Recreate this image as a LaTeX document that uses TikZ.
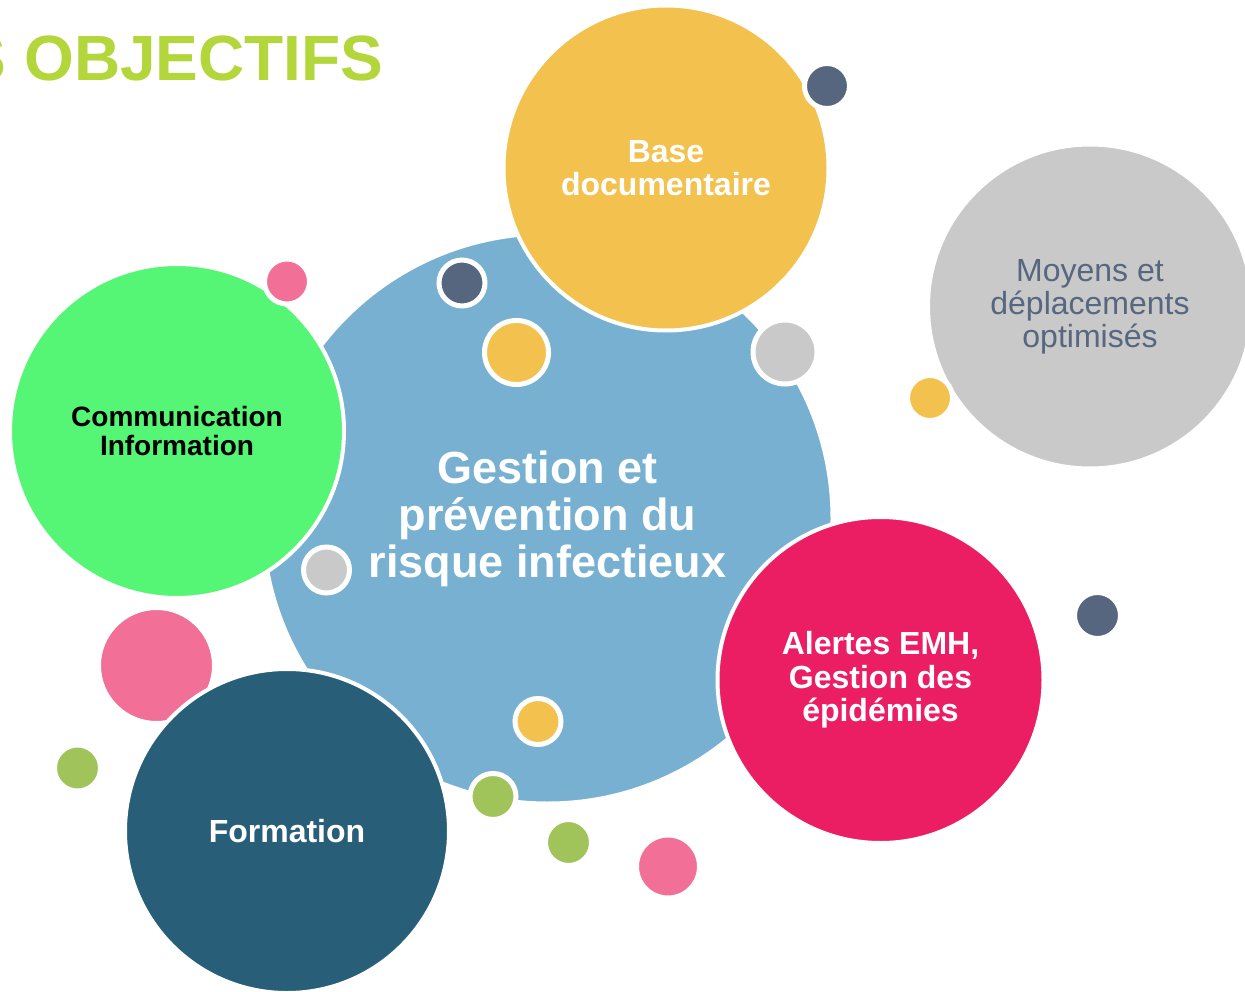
\documentclass[tikz,border=0pt]{standalone}
\usepackage{fontspec}
\setmainfont{Liberation Sans}
\definecolor{bigblue}{HTML}{77B0D1}
\definecolor{docyellow}{HTML}{F2C14E}
\definecolor{movegrey}{HTML}{C9C9C9}
\definecolor{comgreen}{HTML}{55F575}
\definecolor{alertred}{HTML}{EB1E63}
\definecolor{formteal}{HTML}{285E78}
\definecolor{dotslate}{HTML}{56667E}
\definecolor{dotpink}{HTML}{F27098}
\definecolor{dotgreen}{HTML}{A0C45A}
\definecolor{titlegreen}{HTML}{B3D63B}
\definecolor{movetext}{HTML}{56677F}
\begin{document}
\begin{tikzpicture}[x=1pt,y=-1pt,
  bubble/.style={circle,draw=white,line width=4pt,inner sep=0pt,outer sep=0pt,
    align=center,text=white,font=\bfseries\fontsize{32}{33.5}\selectfont},
  dot/.style={circle,draw=white,line width=5pt,inner sep=0pt,outer sep=0pt}]
  \useasboundingbox (0,0) rectangle (1245,992);
  \clip (0,0) rectangle (1245,992);

  %draw title
  \node[anchor=base east,text=titlegreen,font=\bfseries\fontsize{64}{70}\selectfont]
    (title) at (387,81) {S OBJECTIFS};

  %draw centre bubble
  \node[bubble,fill=bigblue,minimum size=570,font=\bfseries\fontsize{45}{47}\selectfont]
    (risk) at (547.5,518.5) {Gestion et\\prévention du\\risque infectieux};

  %draw dots on the centre bubble
  \foreach \x/\y/\r/\c [count=\i] in {462/283/20.5/dotslate, 516.5/352.5/29.5/docyellow,
      785/352/29.5/movegrey, 326.5/570/20.5/movegrey, 538/721.5/20.5/docyellow,
      493/796.5/20.5/dotgreen}
     \node[dot,fill=\c,minimum size=2*\r+5] (inner\i) at (\x,\y) {};

  %draw outer bubbles
  \node[bubble,fill=docyellow,minimum size=325] (docs) at (666,168) {Base\\documentaire};
  \node[bubble,fill=comgreen,minimum size=334,text=black,
    font=\bfseries\fontsize{28}{29}\selectfont] (comm) at (177,431) {Communication\\Information};
  \node[bubble,fill=alertred,minimum size=326] (alert) at (880.5,680) {Alertes EMH,\\Gestion des\\épidémies};
  \node[bubble,fill=movegrey,minimum size=324,text=movetext,
    font=\fontsize{32}{33}\selectfont] (move) at (1090,306.5) {Moyens et\\déplacements\\optimisés};
  \node[dot,fill=dotpink,minimum size=116] (pinkbig) at (156.5,665.5) {};
  \node[bubble,fill=formteal,minimum size=324] (train) at (287,831) {Formation};

  %draw loose dots
  \foreach \x/\y/\r/\c [count=\i] in {827/86/20/dotslate, 287/281.5/20/dotpink,
      930/398/20/docyellow, 1097.5/615.5/20.5/dotslate, 77.5/768/20.5/dotgreen,
      568.5/842.5/20.5/dotgreen, 668/866.5/29/dotpink}
     \node[dot,fill=\c,minimum size=2*\r+5] (outer\i) at (\x,\y) {};
\end{tikzpicture}
\end{document}
